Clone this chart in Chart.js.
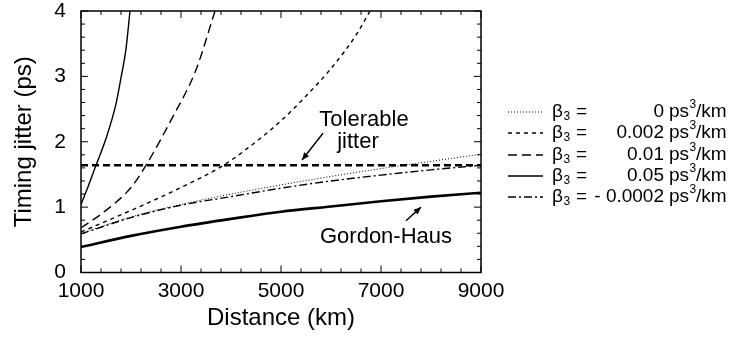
<!DOCTYPE html>
<html>
<head>
<meta charset="utf-8">
<script src="https://cdn.jsdelivr.net/npm/chart.js@4.4.1/dist/chart.umd.min.js"></script>
<style>
    html, body { margin: 0; padding: 0; background: #fff; }
</style>
</head>
<body>
<canvas id="jitterChart" width="733" height="340"></canvas>
<script>
// Values: distance (km) vs timing jitter (ps)
const betaLabels = ['0', '0.002', '0.01', '0.05', '- 0.0002'];

const distBeta0 = [1000, 2000, 3000, 4000, 5000, 6000, 7000, 8000, 9000];
const jitterBeta0 = [0.60, 0.85, 1.04, 1.20, 1.34, 1.47, 1.59, 1.70, 1.81];

const distBeta002 = [1000, 2000, 3000, 3850, 4500, 5000, 5500, 6000, 6500, 6780];
const jitterBeta002 = [0.62, 0.95, 1.30, 1.64, 2.00, 2.32, 2.70, 3.12, 3.63, 4.00];

const distBeta01 = [1000, 1500, 2000, 2300, 2800, 3300, 3680];
const jitterBeta01 = [0.68, 0.95, 1.30, 1.64, 2.33, 3.10, 4.00];

const distBeta05 = [1000, 1150, 1300, 1500, 1700, 1800, 1900, 1980];
const jitterBeta05 = [1.04, 1.33, 1.64, 2.05, 2.58, 2.98, 3.42, 4.00];

const distBetaNeg = [1000, 2000, 3000, 4000, 5000, 6000, 7000, 8000, 9000];
const jitterBetaNeg = [0.59, 0.84, 1.03, 1.16, 1.29, 1.40, 1.49, 1.57, 1.64];

const distGordonHaus = [1000, 2000, 3000, 4000, 5000, 6000, 7000, 8000, 9000];
const jitterGordonHaus = [0.39, 0.56, 0.70, 0.82, 0.93, 1.01, 1.09, 1.16, 1.22];

const distTolerable = [1000, 9000];
const jitterTolerable = [1.64, 1.64];

const xTicks = [1000, 3000, 5000, 7000, 9000];
const yTicks = [0, 1, 2, 3, 4];

const FONT = "'Liberation Sans', Arial, sans-serif";

function pts(xs, ys) {
    return xs.map((x, i) => ({ x: x, y: ys[i] }));
}

// line styles for the five beta curves (same order as betaLabels)
const betaStyles = [
    { dash: [1, 2], width: 1 },
    { dash: [4, 4], width: 1.4 },
    { dash: [9, 5], width: 1.4 },
    { dash: [], width: 1.4 },
    { dash: [8, 3, 2, 3], width: 1.4 }
];
const betaData = [
    pts(distBeta0, jitterBeta0),
    pts(distBeta002, jitterBeta002),
    pts(distBeta01, jitterBeta01),
    pts(distBeta05, jitterBeta05),
    pts(distBetaNeg, jitterBetaNeg)
];

const datasets = betaLabels.map((lab, i) => ({
    label: lab,
    data: betaData[i],
    borderColor: '#000',
    borderWidth: betaStyles[i].width,
    borderDash: betaStyles[i].dash,
    pointRadius: 0,
    fill: false,
    cubicInterpolationMode: 'monotone'
}));
datasets.push({
    label: 'Tolerable jitter',
    data: pts(distTolerable, jitterTolerable),
    borderColor: '#000',
    borderWidth: 2.6,
    borderDash: [7, 4],
    pointRadius: 0,
    fill: false
});
datasets.push({
    label: 'Gordon-Haus',
    data: pts(distGordonHaus, jitterGordonHaus),
    borderColor: '#000',
    borderWidth: 2.6,
    pointRadius: 0,
    fill: false,
    cubicInterpolationMode: 'monotone'
});

// frame, inward ticks, annotations and the legend
const extrasPlugin = {
    id: 'extras',
    afterDraw(chart) {
        const ctx = chart.ctx;
        const a = chart.chartArea;
        const xs = chart.scales.x;
        const ys = chart.scales.y;
        ctx.save();
        ctx.strokeStyle = '#000';
        ctx.fillStyle = '#000';
        ctx.setLineDash([]);

        // box
        ctx.lineWidth = 1.5;
        ctx.strokeRect(a.left, a.top, a.right - a.left, a.bottom - a.top);

        // ticks on all four sides
        ctx.lineWidth = 1;
        ctx.beginPath();
        for (let v = 1000; v <= 9000; v += 400) {
            const px = xs.getPixelForValue(v);
            const len = (v - 1000) % 2000 === 0 ? 7 : 4;
            ctx.moveTo(px, a.bottom); ctx.lineTo(px, a.bottom - len);
            ctx.moveTo(px, a.top); ctx.lineTo(px, a.top + len);
        }
        for (let k = 0; k <= 20; k++) {
            const py = ys.getPixelForValue(k * 0.2);
            const len = k % 5 === 0 ? 7 : 4;
            ctx.moveTo(a.left, py); ctx.lineTo(a.left + len, py);
            ctx.moveTo(a.right, py); ctx.lineTo(a.right - len, py);
        }
        ctx.stroke();

        // annotations
        ctx.font = '22px ' + FONT;
        ctx.textAlign = 'center';
        ctx.textBaseline = 'middle';
        ctx.fillText('Tolerable', xs.getPixelForValue(6660), ys.getPixelForValue(2.33));
        ctx.fillText('jitter', xs.getPixelForValue(6540), ys.getPixelForValue(2.0));
        ctx.fillText('Gordon-Haus', xs.getPixelForValue(7100), ys.getPixelForValue(0.55));
        drawArrow(ctx, xs.getPixelForValue(5840), ys.getPixelForValue(2.13),
            xs.getPixelForValue(5420), ys.getPixelForValue(1.72));
        drawArrow(ctx, xs.getPixelForValue(7500), ys.getPixelForValue(0.79),
            xs.getPixelForValue(7800), ys.getPixelForValue(1.0));

        // legend
        const rowY = [112, 133, 155, 176, 197];
        betaLabels.forEach((lab, i) => {
            const y = rowY[i];
            ctx.lineWidth = betaStyles[i].width;
            ctx.setLineDash(betaStyles[i].dash);
            ctx.beginPath();
            ctx.moveTo(508, y);
            ctx.lineTo(543, y);
            ctx.stroke();
            ctx.setLineDash([]);

            ctx.textBaseline = 'middle';
            ctx.textAlign = 'left';
            ctx.font = '19px ' + FONT;
            ctx.fillText('\u03b2', 552, y);
            const bw = ctx.measureText('\u03b2').width;
            ctx.font = '12px ' + FONT;
            ctx.fillText('3', 552 + bw + 0.5, y + 5);
            ctx.font = '19px ' + FONT;
            ctx.fillText('=', 576, y);
            ctx.textAlign = 'right';
            ctx.fillText(lab, 664, y);
            ctx.textAlign = 'left';
            ctx.fillText('ps', 669, y);
            const pw = ctx.measureText('ps').width;
            ctx.font = '12px ' + FONT;
            ctx.fillText('3', 669 + pw + 0.5, y - 7);
            ctx.font = '19px ' + FONT;
            ctx.fillText('/km', 669 + pw + 7, y);
        });
        ctx.restore();
    }
};

function drawArrow(ctx, x0, y0, x1, y1) {
    ctx.lineWidth = 1.4;
    ctx.beginPath();
    ctx.moveTo(x0, y0);
    ctx.lineTo(x1, y1);
    ctx.stroke();
    const ang = Math.atan2(y1 - y0, x1 - x0);
    const h = 8;
    ctx.beginPath();
    ctx.moveTo(x1, y1);
    ctx.lineTo(x1 - h * Math.cos(ang - 0.4), y1 - h * Math.sin(ang - 0.4));
    ctx.lineTo(x1 - h * Math.cos(ang + 0.4), y1 - h * Math.sin(ang + 0.4));
    ctx.closePath();
    ctx.fill();
}

const ctx = document.getElementById('jitterChart').getContext('2d');
const jitterChart = new Chart(ctx, {
    type: 'line',
    data: { datasets: datasets },
    options: {
        responsive: false,
        animation: false,
        devicePixelRatio: 1,
        layout: { padding: { left: 0, right: 252, top: 11, bottom: 0 } },
        plugins: {
            legend: { display: false },
            tooltip: { enabled: false }
        },
        scales: {
            x: {
                type: 'linear',
                min: 1000,
                max: 9000,
                afterBuildTicks: (scale) => { scale.ticks = xTicks.map(v => ({ value: v })); },
                afterFit: (scale) => {
                    scale.height = 67.5;
                    scale.paddingLeft = 0;
                    scale.paddingRight = 0;
                },
                grid: { display: false, drawTicks: false },
                border: { display: false },
                ticks: {
                    color: '#000',
                    padding: 6,
                    maxRotation: 0,
                    font: { family: FONT, size: 21 },
                    callback: (v) => String(v)
                },
                title: {
                    display: true,
                    text: 'Distance (km)',
                    color: '#000',
                    font: { family: FONT, size: 24 },
                    padding: { top: 0, bottom: 7 }
                }
            },
            y: {
                min: 0,
                max: 4,
                afterBuildTicks: (scale) => { scale.ticks = yTicks.map(v => ({ value: v })); },
                afterFit: (scale) => {
                    scale.width = 81;
                    scale.paddingTop = 0;
                    scale.paddingBottom = 0;
                },
                grid: { display: false, drawTicks: false },
                border: { display: false },
                ticks: {
                    color: '#000',
                    padding: 15,
                    font: { family: FONT, size: 21 }
                },
                title: {
                    display: true,
                    text: 'Timing jitter (ps)',
                    color: '#000',
                    font: { family: FONT, size: 24 },
                    padding: { top: 10, bottom: 0 }
                }
            }
        }
    },
    plugins: [extrasPlugin]
});
</script>
</body>
</html>
